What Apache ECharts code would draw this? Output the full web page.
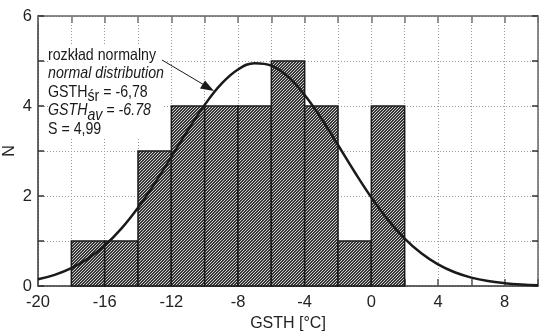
<!DOCTYPE html>
<html><head><meta charset="utf-8">
<script src="https://cdn.jsdelivr.net/npm/echarts@6/dist/echarts.min.js"></script>
<style>html,body{margin:0;padding:0;background:#fff}#c{width:539px;height:335px}</style>
</head><body><div id="c"></div>
<script>
// Histogram bins (GSTH [°C]) and counts N
const binStarts = [-18, -16, -14, -12, -10, -8, -6, -4, -2, 0];
const binEnds   = [-16, -14, -12, -10, -8, -6, -4, -2, 0, 2];
const counts    = [1, 1, 3, 4, 4, 4, 5, 4, 1, 4];
// Normal distribution curve
const curveX = [-20,-19,-18,-17,-16,-15,-14,-13,-12,-11,-10,-9,-8,-7,-6,-5,-4,-3,-2,-1,0,1,2,3,4,5,6,7,8,9,10];
const curveY = [0.148,0.247,0.396,0.609,0.899,1.276,1.740,2.279,2.868,3.467,4.025,4.490,4.811,4.952,4.897,4.652,4.245,3.721,3.133,2.534,1.969,1.470,1.054,0.726,0.480,0.305,0.187,0.109,0.062,0.033,0.017];
const xTickLabels = ['-20','-16','-12','-8','-4','0','4','8'];
const yTickLabels = ['0','2','4','6'];

const FONT = '"Liberation Sans", Arial, sans-serif';

// hatch pattern
const pc = document.createElement('canvas');
pc.width = 3; pc.height = 3;
const g = pc.getContext('2d');
g.fillStyle = '#d0d0d0'; g.fillRect(0,0,3,3);
g.fillStyle = '#363636';
for (let i = 0; i < 3; i++) { g.fillRect(i, 2 - i, 1, 1); g.fillRect((i+1)%3, 2 - i, 1, 1); }

const barData = binStarts.map((s, i) => [s, binEnds[i], counts[i]]);
const curveData = curveX.map((x, i) => [x, curveY[i]]);

const chart = echarts.init(document.getElementById('c'), null, {renderer: 'canvas'});
const gridLine = {show: true, lineStyle: {color: '#9a9a9a', type: [1, 2], width: 1}};
chart.setOption({
  animation: false,
  grid: {left: 38, right: 1, top: 16, bottom: 49, outerBoundsMode: 'none'},
  xAxis: [{
    type: 'value', min: -20, max: 10, interval: 2, position: 'bottom',
    axisLine: {onZero: false, lineStyle: {color: '#333', width: 1.5}},
    axisTick: {inside: true, length: 7, lineStyle: {color: '#555', width: 1.5}},
    axisLabel: {color: '#222', fontSize: 16.5, fontFamily: FONT, margin: 8,
      formatter: v => { const s = String(v); return xTickLabels.indexOf(s) >= 0 ? s : ''; }},
    splitLine: gridLine,
    name: 'GSTH [°C]', nameLocation: 'middle', nameGap: 30, nameMoveOverlap: false,
    nameTextStyle: {color: '#222', fontSize: 16, fontFamily: FONT}
  }, {
    type: 'value', min: -20, max: 10, interval: 2, position: 'top',
    axisLine: {show: true, onZero: false, lineStyle: {color: '#666', width: 1.5}},
    axisTick: {show: true, inside: true, length: 7, lineStyle: {color: '#777', width: 1.5}},
    axisLabel: {show: false}, splitLine: {show: false}
  }],
  yAxis: [{
    type: 'value', min: 0, max: 6, interval: 1, position: 'left',
    axisLine: {show: true, onZero: false, lineStyle: {color: '#333', width: 1.5}},
    axisTick: {show: true, inside: true, length: 6, lineStyle: {color: '#333', width: 1.5}},
    axisLabel: {color: '#222', fontSize: 16.5, fontFamily: FONT, margin: 6,
      formatter: v => { const s = String(v); return yTickLabels.indexOf(s) >= 0 ? s : ''; }},
    splitLine: gridLine,
    name: 'N', nameLocation: 'middle', nameGap: 20, nameRotate: 90, nameMoveOverlap: false,
    nameTextStyle: {color: '#222', fontSize: 16, fontFamily: FONT}
  }, {
    type: 'value', min: 0, max: 6, interval: 1, position: 'right',
    axisLine: {show: true, onZero: false, lineStyle: {color: '#666', width: 1.5}},
    axisTick: {show: true, inside: true, length: 6, lineStyle: {color: '#333', width: 1.5}},
    axisLabel: {show: false}, splitLine: {show: false}
  }],
  series: [{
    type: 'custom', xAxisIndex: 0, yAxisIndex: 0, z: 2,
    data: barData,
    renderItem: function (params, api) {
      const p0 = api.coord([api.value(0), api.value(2)]);
      const p1 = api.coord([api.value(1), 0]);
      return {
        type: 'rect',
        shape: {x: p0[0], y: p0[1], width: p1[0] - p0[0], height: p1[1] - p0[1]},
        style: {fill: {image: pc, repeat: 'repeat'}, stroke: '#1a1a1a', lineWidth: 1.5}
      };
    }
  }, {
    type: 'line', xAxisIndex: 0, yAxisIndex: 0, z: 5,
    data: curveData, smooth: 0.4, showSymbol: false, clip: true,
    lineStyle: {color: '#1a1a1a', width: 2.5}
  }],
  graphic: [{
    type: 'text', x: 48, y: 46, scaleX: 0.86, z: 10,
    style: {
      text: 'rozkład normalny\n{i|normal distribution}\nGSTH{s|śr} = -6,78\n{i|GSTH}{is|av}{i| = -6.78}\nS = 4,99',
      font: '16.5px ' + FONT, fill: '#1a1a1a', lineHeight: 18.5, backgroundColor: '#fff',
      rich: {
        i: {fontStyle: 'italic', fontSize: 16.5, fontFamily: FONT, lineHeight: 18.5},
        s: {fontSize: 16.5, fontFamily: FONT, lineHeight: 18.5, padding: [9, 0, 0, 0]},
        is: {fontStyle: 'italic', fontSize: 16.5, fontFamily: FONT, lineHeight: 18.5, padding: [9, 0, 0, 0]}
      }
    }
  }, {
    type: 'line', z: 10,
    shape: {x1: 162, y1: 60, x2: 211, y2: 89},
    style: {stroke: '#1a1a1a', lineWidth: 1}
  }, {
    type: 'polygon', z: 10,
    shape: {points: [[214, 91], [200, 88.5], [205, 80.5]]},
    style: {fill: '#1a1a1a'}
  }]
});
</script></body></html>
